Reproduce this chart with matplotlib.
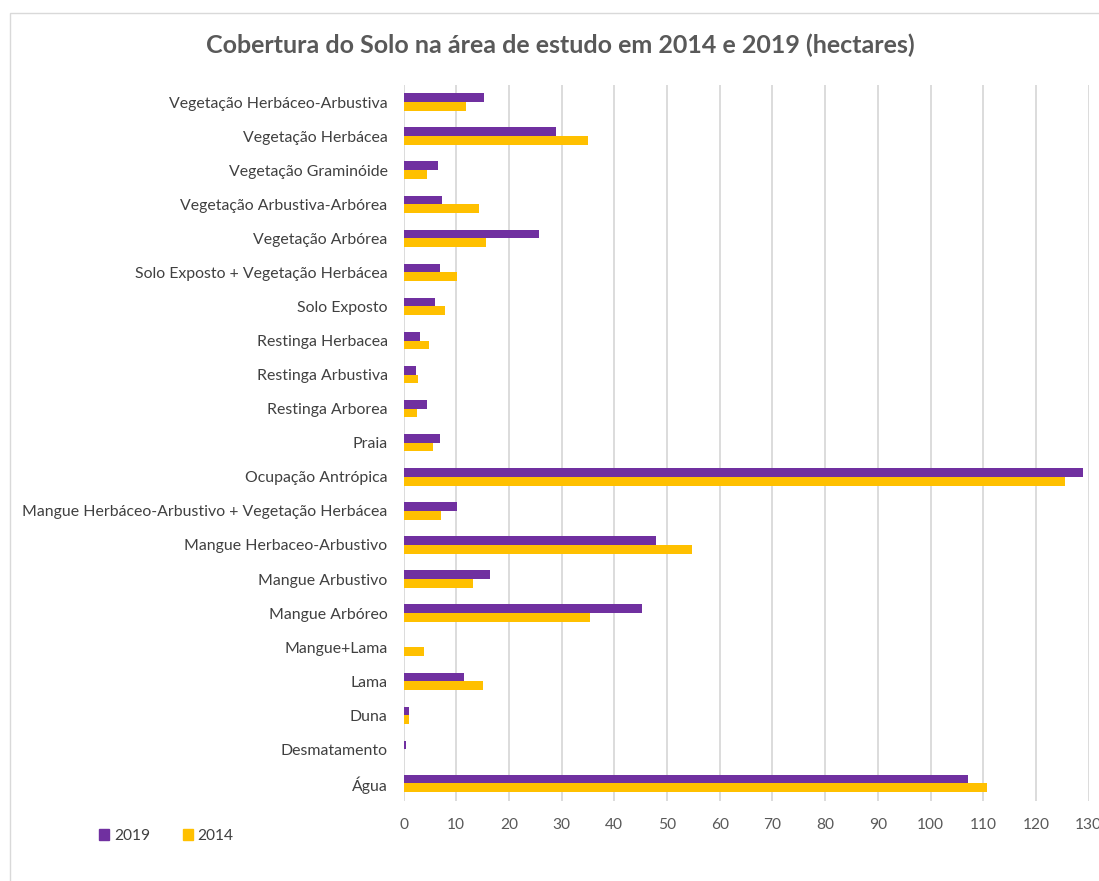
import matplotlib
matplotlib.use("Agg")
import matplotlib.pyplot as plt
import numpy as np
from matplotlib.patches import Rectangle, Patch

categories = [
    "Vegetação Herbáceo-Arbustiva",
    "Vegetação Herbácea",
    "Vegetação Graminóide",
    "Vegetação Arbustiva-Arbórea",
    "Vegetação Arbórea",
    "Solo Exposto + Vegetação Herbácea",
    "Solo Exposto",
    "Restinga Herbacea",
    "Restinga Arbustiva",
    "Restinga Arborea",
    "Praia",
    "Ocupação Antrópica",
    "Mangue Herbáceo-Arbustivo + Vegetação Herbácea",
    "Mangue Herbaceo-Arbustivo",
    "Mangue Arbustivo",
    "Mangue Arbóreo",
    "Mangue+Lama",
    "Lama",
    "Duna",
    "Desmatamento",
    "Água",
]
values_2019 = [15.3, 29.0, 6.5, 7.4, 25.8, 6.9, 6.0, 3.2, 2.4, 4.4, 6.9,
               128.9, 10.2, 48.0, 16.4, 45.2, 0.0, 11.4, 1.0, 0.4, 107.2]
values_2014 = [11.8, 35.0, 4.4, 14.3, 15.7, 10.2, 7.9, 4.8, 2.8, 2.6, 5.6,
               125.6, 7.1, 54.8, 13.2, 35.3, 3.9, 15.1, 1.0, 0.0, 110.7]
x_ticks = list(range(0, 131, 10))
title = "Cobertura do Solo na área de estudo em 2014 e 2019 (hectares)"

PURPLE = "#7030A0"
YELLOW = "#FFC000"
FONT = ["Lato", "DejaVu Sans"]
plt.rcParams["font.family"] = FONT

W, H = 1099, 881
fig = plt.figure(figsize=(W / 100, H / 100), dpi=100)
fig.patch.set_facecolor("white")

# chart border
fig.patches.append(Rectangle((10 / W, -0.05), 1.2, 1 - 12.5 / H + 0.05,
                             transform=fig.transFigure, fill=False,
                             edgecolor="#D9D9D9", linewidth=1.0))

left, right = 403.5 / W, 1088.6 / W
top, bottom = 1 - 85 / H, 1 - 800.5 / H
ax = fig.add_axes([left, bottom, right - left, top - bottom])

y = np.arange(len(categories))
h = 0.255
ax.barh(y - h / 2, values_2019, height=h, color=PURPLE, label="2019", zorder=3)
ax.barh(y + h / 2, values_2014, height=h, color=YELLOW, label="2014", zorder=3)

ax.set_ylim(len(categories) - 0.5, -0.5)
ax.set_xlim(0, 130)
ax.set_yticks(y)
ax.set_yticklabels(categories, fontsize=11.4, color="#404040")
ax.set_xticks(x_ticks)
ax.set_xticklabels([str(t) for t in x_ticks], fontsize=11.2, color="#595959")
ax.tick_params(axis="both", length=0)
ax.tick_params(axis="y", pad=11.5)
ax.tick_params(axis="x", pad=12.5)
ax.grid(axis="x", color="#D9D9D9", linewidth=1.3, zorder=0)
ax.set_axisbelow(True)
for s in ax.spines.values():
    s.set_visible(False)

fig.text(560 / W, 1 - 45 / H, title, ha="center", va="center",
         fontsize=18, fontweight="bold", color="#595959")

handles = [Patch(color=PURPLE, label="2019"), Patch(color=YELLOW, label="2014")]
fig.legend(handles=handles, loc="center left", bbox_to_anchor=(85 / W, 1 - 836 / H),
           ncol=2, frameon=False, fontsize=11.2, handlelength=0.65, handleheight=0.65,
           handletextpad=0.3, columnspacing=2.1, labelcolor="#404040")

fig.savefig("out.png", dpi=100, facecolor="white")
